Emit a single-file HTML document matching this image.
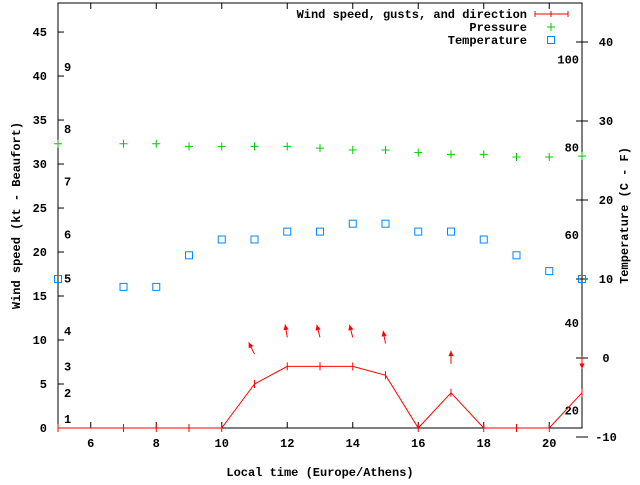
<!DOCTYPE html>
<html><head><meta charset="utf-8"><style>
html,body{margin:0;padding:0;background:#fff}
svg text{font-family:"Liberation Mono","DejaVu Sans Mono",monospace;font-size:12px;font-weight:bold;fill:#000}
</style></head><body>
<svg id="chart" width="640" height="480" viewBox="0 0 640 480" xmlns="http://www.w3.org/2000/svg"></svg>
<script>
const hours=[5,7,8,9,10,11,12,13,14,15,16,17,18,19,20,21];
const windKt=[0,0,0,0,0,5,7,7,7,6,0,4,0,0,0,4];
const pressureVals=[32.3,32.3,32.3,32,32,32,32,31.8,31.6,31.6,31.3,31.1,31.1,30.8,30.8,30.9];
const tempC=[10,9,9,13,15,15,16,16,17,17,16,16,15,13,11,10];
const gustHours=[11,12,13,14,15,17,21];
const gustKt=[8.4,10.3,10.3,10.3,9.6,7.3,8.2];
const gustDirX=[-0.45,-0.16,-0.25,-0.25,-0.18,0,0];
const gustDirY=[-0.9,-0.99,-0.97,-0.97,-0.98,-1,1];
const xTicks=[6,8,10,12,14,16,18,20];
const yTicks=[0,5,10,15,20,25,30,35,40,45];
const tTicks=[-10,0,10,20,30,40];
const fTicks=[20,40,60,80,100];
const bftLevels=[1,2,3,4,5,6,7,8,9];
const bftKt=[1,4,7,11,17,22,28,34,41];

const L=58,R=582,T=3,B=428;
const X=v=>L+(v-5)/(21-5)*(R-L);
const Y=v=>B-v/48.3*(B-T);
const YT=c=>437-(c+10)*7.9;
const YF=f=>YT((f-32)*5/9);
const svg=document.getElementById('chart');
const NS='http://www.w3.org/2000/svg';
function mk(tag,attrs,parent){const e=document.createElementNS(NS,tag);for(const k in attrs)e.setAttribute(k,attrs[k]);(parent||svg).appendChild(e);return e;}
function txt(s,x,y,anchor,parent){const t=mk('text',{x:x,y:y,'text-anchor':anchor||'start'},parent);t.textContent=s;return t;}

let g=mk('g',{});


xTicks.forEach(v=>{mk('line',{x1:X(v),x2:X(v),y1:B,y2:B-6,stroke:'#000'},g);mk('line',{x1:X(v),x2:X(v),y1:T,y2:T+6,stroke:'#000'},g);const t=txt(String(v),X(v),447,'middle',g);});
let xt=txt('Local time (Europe/Athens)',(L+R)/2,476,'middle');



g=mk('g',{});


yTicks.forEach(v=>{mk('line',{x1:L,x2:L+6,y1:Y(v),y2:Y(v),stroke:'#000'},g);const t=txt(String(v),47,Y(v)+4,'end',g);});
let yt=txt('Wind speed (kt - Beaufort)',0,0,'middle');
yt.setAttribute('transform','translate(20,'+(T+B)/2+') rotate(-90)');



g=mk('g',{});


bftLevels.forEach((b,i)=>txt(String(b),64,Y(bftKt[i])+4,'start',g));

g=mk('g',{});


tTicks.forEach(v=>{mk('line',{x1:R,x2:R-6,y1:YT(v),y2:YT(v),stroke:'#000'},g);mk('line',{x1:R,x2:R+6,y1:YT(v),y2:YT(v),stroke:'#000'},g);txt(String(v),606,YT(v)+4,'middle',g);});
fTicks.forEach(v=>{txt(String(v),579,YF(v)+4,'end',g);});
let rt=txt('Temperature (C - F)',0,0,'middle');
rt.setAttribute('transform','translate(628,'+(T+B)/2+') rotate(-90)');



let frame=mk('rect',{x:L,y:T,width:R-L,height:B-T,fill:'none',stroke:'#000'});



// wind series
g=mk('g',{});


mk('polyline',{points:hours.map((h,i)=>X(h)+','+Y(windKt[i])).join(' '),fill:'none',stroke:'#f00'},g);
hours.forEach((h,i)=>mk('line',{x1:X(h),x2:X(h),y1:Y(windKt[i])-4,y2:Y(windKt[i])+4,stroke:'#f00'},g));

// gust arrows
g=mk('g',{});


gustHours.forEach((h,i)=>{const x0=X(h),y0=Y(gustKt[i]);const len=13;const x1=x0+gustDirX[i]*len,y1=y0+gustDirY[i]*len;
 mk('line',{x1:x0,y1:y0,x2:x1,y2:y1,stroke:'#f00'},g);
 const a=Math.atan2(y1-y0,x1-x0),s=6,w=0.45;
 mk('polygon',{points:x1+','+y1+' '+(x1-s*Math.cos(a-w))+','+(y1-s*Math.sin(a-w))+' '+(x1-s*Math.cos(a+w))+','+(y1-s*Math.sin(a+w)),fill:'#f00'},g);});

// pressure
g=mk('g',{});


hours.forEach((h,i)=>{const x=X(h),y=Y(pressureVals[i]);mk('path',{d:`M${x-4} ${y}H${x+4}M${x} ${y-4}V${y+4}`,stroke:'#0c0'},g);});

// temperature
g=mk('g',{});


hours.forEach((h,i)=>{mk('rect',{x:X(h)-3.5,y:YT(tempC[i])-3.5,width:7,height:7,fill:'none',stroke:'#08f'},g);});

// legend
g=mk('g',{});


txt('Wind speed, gusts, and direction',527,18,'end',g);
mk('path',{d:'M535 14H568M535 11V17M551 11V17M568 11V17',stroke:'#f00'},g);
txt('Pressure',527,31,'end',g);
mk('path',{d:'M547 27H555M551 23V31',stroke:'#0c0'},g);
txt('Temperature',527,44,'end',g);
mk('rect',{x:547.5,y:36.5,width:7,height:7,fill:'none',stroke:'#08f'},g);
</script>
</body></html>
